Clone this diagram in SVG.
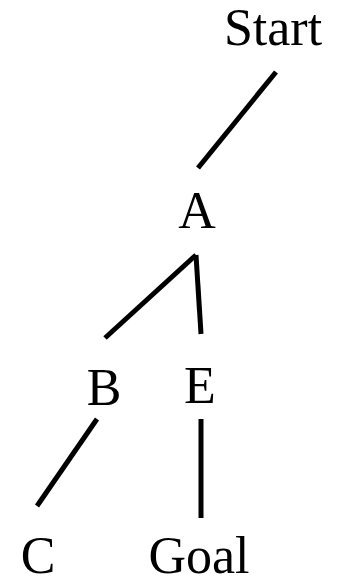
<svg xmlns="http://www.w3.org/2000/svg" width="338" height="584" viewBox="0 0 338 584">
<style>
text{font-family:"Liberation Serif","DejaVu Serif",serif;font-size:52px;fill:#000;text-anchor:middle}
line{stroke:#000;stroke-width:5}
</style>
<rect width="338" height="584" fill="#fff"/>
<g id="connectors">
<line x1="276" y1="72" x2="198" y2="168"/>
<line x1="196" y1="255" x2="105" y2="338"/>
<line x1="196" y1="255" x2="201" y2="334"/>
<line x1="97" y1="419" x2="37" y2="506"/>
<line x1="201" y1="419" x2="201" y2="518"/>
</g>
<g id="start"><text x="273" y="45">Start</text></g>
<g id="a"><text x="197" y="228">A</text></g>
<g id="b"><text x="104" y="405">B</text></g>
<g id="e"><text x="200" y="403">E</text></g>
<g id="c"><text x="38" y="573">C</text></g>
<g id="goal"><text x="199" y="573">Goal</text></g>
</svg>
